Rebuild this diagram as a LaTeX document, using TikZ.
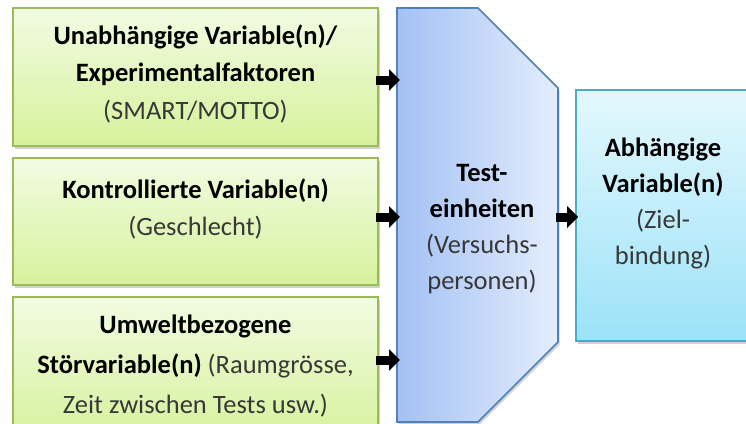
\documentclass[tikz,border=0pt]{standalone}
\usepackage{fontspec}
\setmainfont{Carlito}
\usetikzlibrary{shadows,arrows.meta}
\definecolor{gborder}{HTML}{9BBB59}
\definecolor{gtop}{HTML}{F2FBE2}
\definecolor{gbot}{HTML}{D6F29C}
\definecolor{bborder}{HTML}{4F81BD}
\definecolor{bleft}{HTML}{A3C1F5}
\definecolor{bright}{HTML}{E4EDFC}
\definecolor{cborder}{HTML}{4BACC6}
\definecolor{ctop}{HTML}{E4F8FD}
\definecolor{cbot}{HTML}{9CE2F8}
\definecolor{txtgray}{HTML}{383838}
\begin{document}
\begin{tikzpicture}[x=1pt,y=-1pt,
  shadowed/.style={drop shadow={shadow xshift=1.5pt,shadow yshift=-2.5pt,opacity=0.3,fill=black!60}},
  gbox/.style={draw=gborder,line width=1.6pt,top color=gtop,bottom color=gbot,shadowed,inner sep=0pt},
  cbox/.style={draw=cborder,line width=1.6pt,top color=ctop,bottom color=cbot,shadowed,inner sep=0pt},
  label/.style={align=center,font=\fontsize{26.5}{37.5}\selectfont,inner sep=0pt},
  blockarrow/.style={line width=9pt,-{Triangle[width=21pt,length=11pt]}}]
\useasboundingbox (0,0) rectangle (746,423);
\clip (0,0) rectangle (746,423);
% green boxes
\node[gbox,minimum width=365pt,minimum height=138pt] (b1) at (195.5,77) {};
\node[gbox,minimum width=365pt,minimum height=127pt] (b2) at (195.5,221.5) {};
\node[gbox,minimum width=365pt,minimum height=143pt] (b3) at (195.5,368.5) {};
% test units shape
\draw[draw=bborder,line width=1.6pt,left color=bleft,right color=bright,shadowed]
  (397,8) -- (478,8) -- (558,88) -- (558,342) -- (478,422) -- (397,422) -- cycle;
% dependent variable box
\node[cbox,minimum width=184pt,minimum height=251pt] (dv) at (668,215.5) {};
% texts
\node[label] (t1) at (195.5,74) {\textbf{Unabhängige Variable(n)/}\\\textbf{Experimentalfaktoren}\\{\color{txtgray}(SMART/MOTTO)}};
\node[label] (t2) at (195.5,209) {\textbf{Kontrollierte Variable(n)}\\{\color{txtgray}(Geschlecht)}};
\node[label,font=\fontsize{26.5}{40}\selectfont] (t3) at (195.5,366) {\textbf{Umweltbezogene}\\\textbf{Störvariable(n)} {\color{txtgray}(Raumgrösse,}\\{\color{txtgray}Zeit zwischen Tests usw.)}};
\node[label,font=\fontsize{26.5}{36}\selectfont] (test) at (482,229) {\textbf{Test-}\\\textbf{einheiten}\\{\color{txtgray}(Versuchs-}\\{\color{txtgray}personen)}};
\node[label,font=\fontsize{26.5}{36}\selectfont] (t5) at (663,203) {\textbf{Abhängige}\\\textbf{Variable(n)}\\{\color{txtgray}(Ziel-}\\{\color{txtgray}bindung)}};
% arrow endpoints
\coordinate (a1s) at (376,80);  \coordinate (a1e) at (400,80);
\coordinate (a2s) at (376,217); \coordinate (a2e) at (400,217);
\coordinate (a3s) at (376,360); \coordinate (a3e) at (400,360);
\coordinate (a4s) at (556,217); \coordinate (a4e) at (dv.west |- a4s);
\draw[blockarrow] (a1s) -- (a1e);
\draw[blockarrow] (a2s) -- (a2e);
\draw[blockarrow] (a3s) -- (a3e);
\draw[blockarrow] (a4s) -- ([xshift=3pt]a4e);
\end{tikzpicture}
\end{document}
